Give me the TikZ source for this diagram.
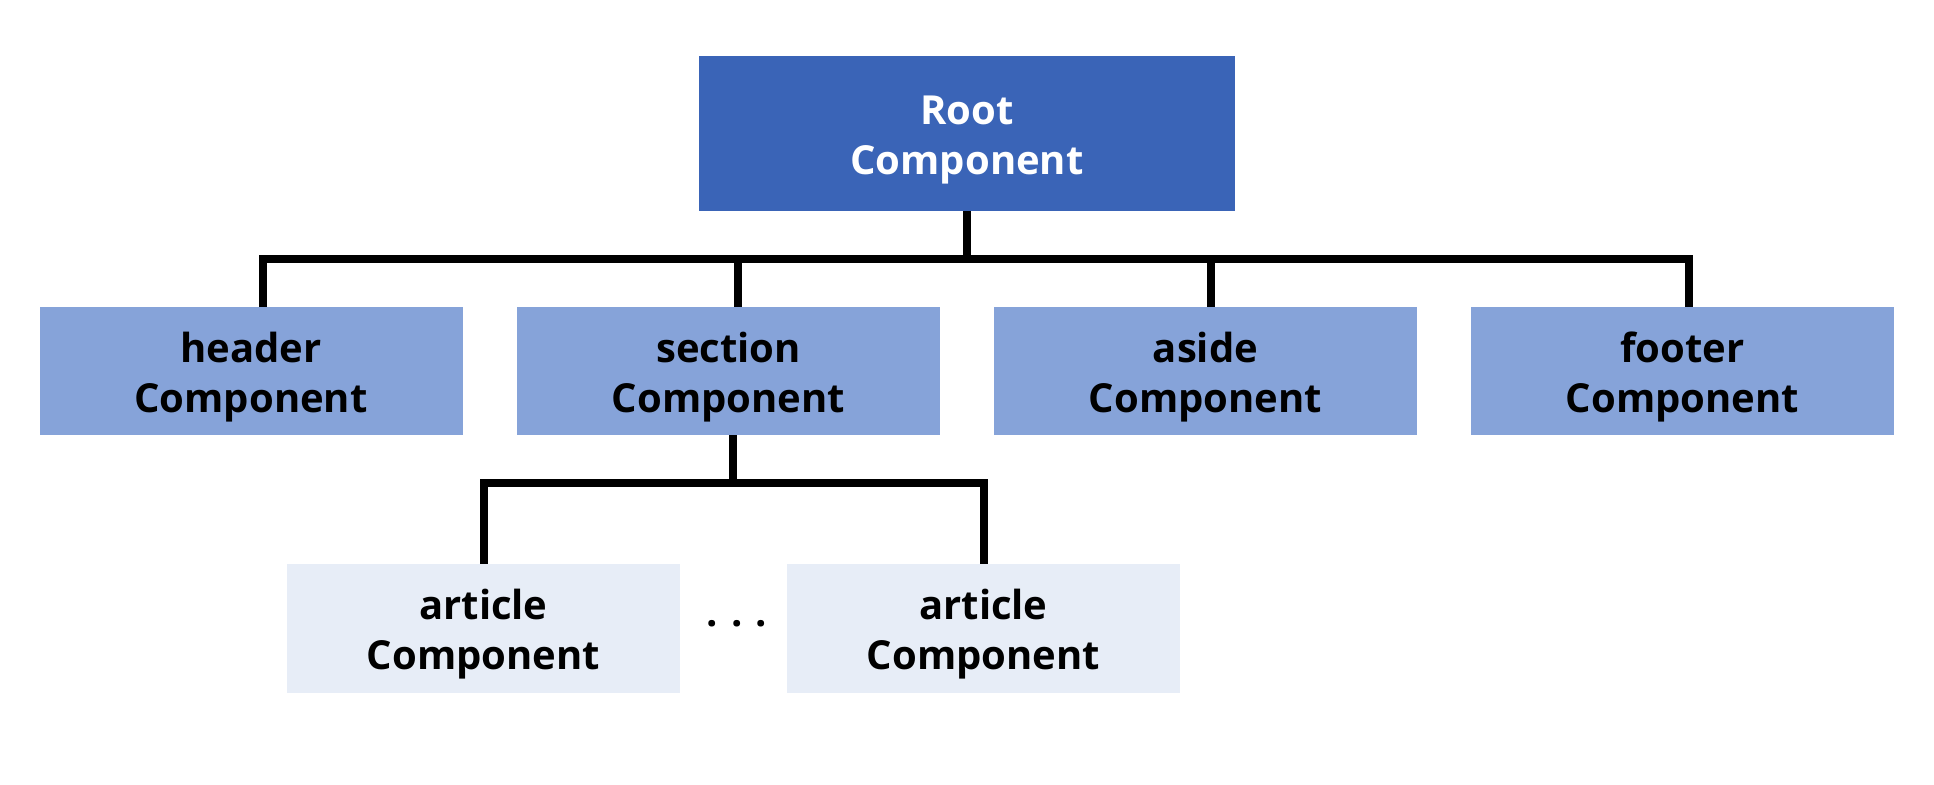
\documentclass[tikz,border=0pt]{standalone}
\usepackage{fontspec}
\setmainfont{Open Sans}
\definecolor{rootblue}{HTML}{3A64B7}
\definecolor{midblue}{HTML}{86A3D9}
\definecolor{paleblue}{HTML}{E7EDF7}
\newcommand\twolines[2]{\raisebox{-3pt}[\height][\depth]{\begin{tabular}{@{}c@{}}#1\\#2\end{tabular}}}
\tikzset{
  comp/.style={rectangle, inner sep=0pt, align=center, font=\fontsize{20}{25}\selectfont\bfseries},
  rootbox/.style={comp, fill=rootblue, text=white, minimum width=268pt, minimum height=77.5pt},
  midbox/.style={comp, fill=midblue, text=black, minimum width=211.5pt, minimum height=64pt},
  leafbox/.style={comp, fill=paleblue, text=black, minimum width=196.5pt, minimum height=64.5pt},
  link/.style={draw=black, line width=4pt, line join=miter}
}
\begin{document}
\begin{tikzpicture}[x=0.5pt,y=-0.5pt]
\useasboundingbox (0,0) rectangle (1934,784);
\node[rootbox] (root) at (967,133.5) {\twolines{Root}{Component}};
\node[midbox] (header) at (251,371) {\twolines{header}{Component}};
\node[midbox] (section) at (728.5,371) {\twolines{section}{Component}};
\node[midbox] (aside) at (1205.5,371) {\twolines{aside}{Component}};
\node[midbox] (footer) at (1682.5,371) {\twolines{footer}{Component}};
\node[leafbox] (art1) at (483.5,628.5) {\twolines{article}{Component}};
\node[leafbox] (art2) at (983.5,628.5) {\twolines{article}{Component}};
\node[comp, font=\fontsize{20}{24}\selectfont\bfseries] (dots) at (737,624) {.\hspace{6.5pt}.\hspace{6.5pt}.};
% root level connectors
\draw[link] (root.south) -- ++(0,48);
\draw[link] ([xshift=6pt]header.north) -- ++(0,-48) -| ([xshift=3.25pt]footer.north);
\draw[link] ([xshift=4.75pt]section.north) -- ++(0,-48);
\draw[link] ([xshift=2.75pt]aside.north) -- ++(0,-48);
% section to articles
\draw[link] ([xshift=2.25pt]section.south) -- ++(0,48.5);
\draw[link] (art1.north) -- ++(0,-80.5) -| (art2.north);
\end{tikzpicture}
\end{document}
